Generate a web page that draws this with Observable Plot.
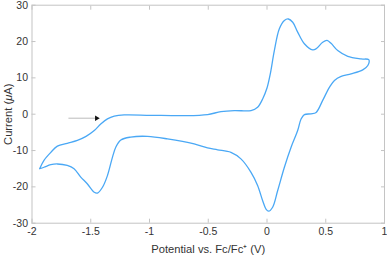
<!DOCTYPE html>
<html>
<head>
<meta charset="utf-8">
<script src="https://cdn.jsdelivr.net/npm/d3@7"></script>
<script src="https://cdn.jsdelivr.net/npm/@observablehq/plot@0.6"></script>
<style>
  html, body { margin: 0; padding: 0; background: #fff; }
  #chart svg { display: block; }
</style>
</head>
<body>
<div id="chart"></div>
<script>
// Cyclic voltammogram, traced in scan order (forward then reverse)
const potential = [
  -1.935, -1.898, -1.84, -1.784, -1.70, -1.614, -1.54, -1.47, -1.415, -1.358, -1.30, -1.216,
  -0.99, -0.70, -0.506, -0.392, -0.278, -0.136, -0.08, -0.037, 0, 0.028, 0.0625, 0.105,
  0.148, 0.182, 0.219, 0.261, 0.318, 0.389, 0.418, 0.474, 0.511, 0.545, 0.602, 0.6875,
  0.80, 0.866,
  0.858, 0.815, 0.716, 0.631, 0.574, 0.531, 0.474, 0.418, 0.375, 0.318, 0.29, 0.261,
  0.205, 0.148, 0.091, 0.048, 0.014, -0.0085, -0.037, -0.08, -0.136, -0.222, -0.307, -0.42,
  -0.506, -0.62, -0.847, -1.017, -1.16, -1.244, -1.287, -1.315, -1.358, -1.40, -1.443,
  -1.47, -1.528, -1.585, -1.642, -1.70, -1.784, -1.84, -1.898, -1.935
];
const current = [
  -15.0, -12.7, -10.5, -8.8, -8.0, -7.2, -6.1, -4.5, -2.7, -1.3, -0.55, -0.2,
  -0.3, -0.4, -0.1, 0.7, 1.0, 1.0, 1.9, 4.2, 7.2, 11.1, 17.5, 23.5,
  25.8, 26.2, 25.3, 22.6, 19.4, 17.7, 18.0, 19.8, 20.3, 19.5, 17.5, 15.9,
  15.2, 15.0,
  13.4, 12.2, 11.1, 10.4, 9.3, 7.4, 3.8, 0.5, 0.1, -0.1, -1.3, -4.5,
  -9.1, -14.6, -21.0, -25.6, -26.7, -26.1, -23.8, -19.6, -16.0, -12.3, -10.5, -9.8,
  -9.3, -8.2, -6.8, -6.1, -6.3, -7.1, -9.1, -11.8, -16.9, -20.1, -21.7,
  -21.5, -19.2, -17.3, -15.0, -14.1, -13.7, -13.9, -14.6, -15.0
];
const xTicks = [-2, -1.5, -1, -0.5, 0, 0.5, 1];
const yTicks = [-30, -20, -10, 0, 10, 20, 30];
const arrowX = [-1.69, -1.45];
const arrowY = [-1.1, -1.1];

const cv = potential.map((v, i) => ({v, i: current[i]}));
const arrowSeg = [{x1: arrowX[0], y1: arrowY[0], x2: arrowX[1], y2: arrowY[1]}];

const font = "Liberation Sans, Arial, sans-serif";
const grey = "#c4c4c4";

const plot = Plot.plot({
  width: 387,
  height: 258,
  marginLeft: 31.5,
  marginRight: 3,
  marginTop: 4.7,
  marginBottom: 35.3,
  style: {fontFamily: font, fontSize: "10.5px", color: "#333", background: "#fff"},
  x: {domain: [-2, 1]},
  y: {domain: [-30, 30]},
  marks: [
    Plot.frame({stroke: grey}),
    // inward tick marks on all four sides
    Plot.axisX(xTicks, {anchor: "bottom", tickSize: -4, text: null, stroke: grey, label: null}),
    Plot.axisX(xTicks, {anchor: "top", tickSize: -4, text: null, stroke: grey, label: null}),
    Plot.axisY(yTicks, {anchor: "left", tickSize: -4, text: null, stroke: grey, label: null}),
    Plot.axisY(yTicks, {anchor: "right", tickSize: -4, text: null, stroke: grey, label: null}),
    // tick labels
    Plot.axisX(xTicks, {anchor: "bottom", tickSize: 0, tickPadding: 4, fill: "#333",
      tickFormat: d => String(d), label: "Potential vs. Fc/Fc⁺ (V)", labelAnchor: "center",
      labelArrow: "none", labelOffset: 30, fontSize: 10.5}),
    Plot.axisY(yTicks, {anchor: "left", tickSize: 0, tickPadding: 4, fill: "#333",
      tickFormat: d => String(d), label: "Current (μA)", labelAnchor: "center",
      labelOffset: 28, labelArrow: "none", fontSize: 10.5}),
    Plot.line(cv, {x: "v", y: "i", stroke: "#4aa8f5", strokeWidth: 1.3, curve: "catmull-rom"}),
    Plot.link(arrowSeg, {x1: "x1", y1: "y1", x2: "x2", y2: "y2", stroke: "#bbbbbb", strokeWidth: 1}),
    Plot.dot(arrowSeg, {x: "x2", y: "y2", symbol: "triangle", rotate: 90, r: 2, fill: "#111", stroke: null})
  ]
});
document.getElementById("chart").appendChild(plot);

// axis titles: slightly larger, italic μ in the y title
plot.querySelectorAll("text").forEach(t => {
  const s = t.textContent;
  if (s.startsWith("Potential")) {
    t.setAttribute("font-size", "11.2");
  }
  if (s.startsWith("Current")) {
    t.setAttribute("font-size", "11.2");
    t.textContent = "";
    const parts = [["Current (", false], ["μ", true], ["A)", false]];
    for (const [p, it] of parts) {
      const ts = document.createElementNS("http://www.w3.org/2000/svg", "tspan");
      ts.textContent = p;
      if (it) ts.setAttribute("font-style", "italic");
      t.appendChild(ts);
    }
  }
});
</script>
</body>
</html>
